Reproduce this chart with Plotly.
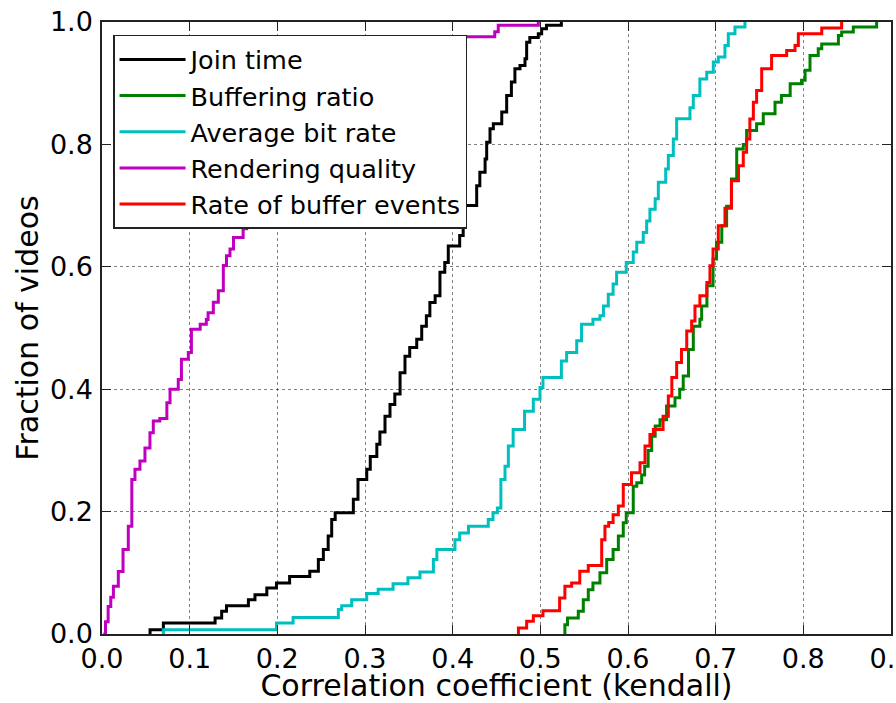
import plotly.graph_objects as go

# ---- data (step-CDF vertices: x where curve rises, new y) ----
join_x = [0.0548, 0.0548, 0.070, 0.129, 0.1365, 0.142, 0.167, 0.1745, 0.188, 0.199, 0.214, 0.237,
          0.2468, 0.2525, 0.258, 0.262, 0.266, 0.2867, 0.292, 0.302, 0.306, 0.3135, 0.317, 0.3228,
          0.3285, 0.334, 0.340, 0.3456, 0.351, 0.359, 0.3647, 0.370, 0.374, 0.380, 0.3855, 0.391,
          0.395, 0.408, 0.412, 0.414, 0.4274, 0.431, 0.437, 0.4388, 0.4426, 0.4464, 0.456, 0.4616,
          0.467, 0.471, 0.4768, 0.4825, 0.4844, 0.488, 0.4977, 0.5015, 0.507, 0.524]
join_y = [0.0, 0.007, 0.018, 0.026, 0.037, 0.046, 0.056, 0.064, 0.075, 0.0835, 0.094, 0.1025,
          0.1216, 0.138, 0.160, 0.187, 0.198, 0.220, 0.2525, 0.269, 0.290, 0.310, 0.330, 0.356,
          0.375, 0.392, 0.427, 0.454, 0.468, 0.4817, 0.503, 0.520, 0.5417, 0.5525, 0.591, 0.607,
          0.634, 0.651, 0.673, 0.700, 0.7326, 0.7545, 0.776, 0.8036, 0.8254, 0.8336, 0.853, 0.880,
          0.902, 0.9236, 0.929, 0.940, 0.967, 0.9747, 0.981, 0.989, 0.9945, 1.0]

buf_ratio_x = [0.528, 0.528, 0.531, 0.5433, 0.549, 0.5547, 0.560, 0.568, 0.5757, 0.583, 0.589, 0.5946,
               0.598, 0.606, 0.610, 0.6156, 0.619, 0.623, 0.627, 0.631, 0.6365, 0.644, 0.6536, 0.659,
               0.663, 0.669, 0.6745, 0.682, 0.684, 0.690, 0.697, 0.701, 0.707, 0.7125, 0.718, 0.724,
               0.7315, 0.7353, 0.7467, 0.7543, 0.7677, 0.775, 0.785, 0.798, 0.802, 0.8076, 0.817,
               0.821, 0.840, 0.8437, 0.857, 0.8836]
buf_ratio_y = [0.0, 0.015, 0.026, 0.037, 0.056, 0.0725, 0.0835, 0.100, 0.1216, 0.138, 0.160, 0.1817,
               0.198, 0.2416, 0.247, 0.260, 0.274, 0.300, 0.323, 0.340, 0.350, 0.3725, 0.386, 0.400,
               0.4216, 0.465, 0.503, 0.5145, 0.536, 0.569, 0.6126, 0.640, 0.667, 0.699, 0.7435, 0.7926,
               0.800, 0.8226, 0.8336, 0.850, 0.869, 0.880, 0.899, 0.905, 0.921, 0.9454, 0.9563,
               0.964, 0.978, 0.9836, 0.992, 1.0]

bitrate_x = [0.070, 0.070, 0.199, 0.218, 0.2696, 0.2734, 0.2848, 0.302, 0.315, 0.332, 0.349, 0.3627,
             0.378, 0.382, 0.4026, 0.408, 0.418, 0.4406, 0.446, 0.451, 0.455, 0.4597, 0.4635, 0.469,
             0.482, 0.492, 0.4996, 0.503, 0.524, 0.530, 0.5415, 0.547, 0.560, 0.568, 0.572, 0.5775,
             0.583, 0.587, 0.598, 0.606, 0.610, 0.6174, 0.6213, 0.625, 0.631, 0.6346, 0.643, 0.646,
             0.6517, 0.6555, 0.6707, 0.6745, 0.682, 0.6898, 0.6973, 0.703, 0.7106, 0.7144, 0.722, 0.7334]
bitrate_y = [0.0, 0.007, 0.018, 0.027, 0.040, 0.046, 0.056, 0.066, 0.073, 0.082, 0.092, 0.1015,
             0.1216, 0.138, 0.154, 0.165, 0.176, 0.187, 0.198, 0.206, 0.2525, 0.274, 0.307, 0.334,
             0.364, 0.3835, 0.4026, 0.419, 0.446, 0.460, 0.479, 0.506, 0.5145, 0.520, 0.536, 0.555,
             0.572, 0.591, 0.607, 0.624, 0.640, 0.656, 0.675, 0.694, 0.711, 0.738, 0.760, 0.7817,
             0.809, 0.842, 0.860, 0.880, 0.907, 0.918, 0.9345, 0.9427, 0.9617, 0.981, 0.992, 1.0]

render_x = [0.0015, 0.004, 0.007, 0.010, 0.013, 0.0186, 0.024, 0.030, 0.034, 0.0376, 0.0433, 0.049,
            0.0547, 0.0585, 0.066, 0.074, 0.0776, 0.087, 0.0906, 0.0985, 0.102, 0.112, 0.119, 0.121,
            0.127, 0.1327, 0.1384, 0.142, 0.146, 0.150, 0.161, 0.165, 0.1745, 0.185, 0.200, 0.220,
            0.250, 0.280, 0.310, 0.350, 0.400, 0.448, 0.452, 0.4977]
render_y = [0.0, 0.020, 0.045, 0.060, 0.078, 0.102, 0.138, 0.176, 0.2525, 0.269, 0.2825, 0.304,
            0.329, 0.348, 0.352, 0.378, 0.400, 0.416, 0.449, 0.460, 0.498, 0.506, 0.514, 0.525,
            0.542, 0.561, 0.602, 0.618, 0.629, 0.648, 0.662, 0.667, 0.673, 0.690, 0.720, 0.760,
            0.810, 0.860, 0.900, 0.940, 0.976, 0.984, 0.9945, 1.0]

buf_events_x = [0.475, 0.475, 0.4844, 0.492, 0.503, 0.522, 0.528, 0.5357, 0.545, 0.5547, 0.570, 0.5737,
                0.578, 0.583, 0.589, 0.5946, 0.604, 0.6137, 0.6194, 0.625, 0.629, 0.640, 0.646, 0.650,
                0.6555, 0.661, 0.667, 0.6726, 0.6764, 0.682, 0.690, 0.6935, 0.697, 0.703, 0.7106, 0.718,
                0.726, 0.7315, 0.7353, 0.739, 0.743, 0.7467, 0.7525, 0.7638, 0.781, 0.7905, 0.7943,
                0.821, 0.8437]
buf_events_y = [0.0, 0.010, 0.021, 0.030, 0.038, 0.059, 0.078, 0.0835, 0.1025, 0.112, 0.154, 0.176,
                0.182, 0.195, 0.209, 0.2444, 0.2635, 0.280, 0.307, 0.326, 0.334, 0.356, 0.389, 0.419,
                0.4435, 0.465, 0.495, 0.5116, 0.536, 0.5525, 0.5745, 0.6016, 0.629, 0.667, 0.6956, 0.7406,
                0.765, 0.787, 0.809, 0.8417, 0.869, 0.888, 0.9236, 0.9454, 0.9536, 0.9618, 0.981,
                0.990, 1.0]

series_names = ["Join time", "Buffering ratio", "Average bit rate", "Rendering quality",
                "Rate of buffer events"]
series_x = [join_x, buf_ratio_x, bitrate_x, render_x, buf_events_x]
series_y = [join_y, buf_ratio_y, bitrate_y, render_y, buf_events_y]
series_colors = ["#000000", "#008000", "#00BFBF", "#BF00BF", "#FF0000"]

x_ticks = [0.0, 0.1, 0.2, 0.3, 0.4, 0.5, 0.6, 0.7, 0.8, 0.9]
y_ticks = [0.0, 0.2, 0.4, 0.6, 0.8, 1.0]

FONT = "DejaVu Sans"

fig = go.Figure()
for name, xs, ys, col in zip(series_names, series_x, series_y, series_colors):
    fig.add_trace(go.Scatter(x=xs, y=ys, mode="lines", name=name, legendgroup=name,
                             line=dict(color=col, width=3, shape="hv")))

axis_common = dict(
    showline=True, linecolor="#222222", linewidth=1.5, mirror="ticks",
    ticks="inside", ticklen=9, tickwidth=1, tickcolor="#222222",
    showgrid=True, gridcolor="rgba(0,0,0,0.5)", griddash="dot", gridwidth=1,
    zeroline=False, automargin=False,
    tickfont=dict(family=FONT, size=27, color="black"),
)

fig.update_layout(
    template="none",
    width=896, height=703,
    margin=dict(l=102, r=5, t=22, b=69),
    paper_bgcolor="white", plot_bgcolor="white",
    font=dict(family=FONT, color="black"),
    showlegend=True,
    legend=dict(
        x=0.014, y=0.979, xanchor="left", yanchor="top",
        bgcolor="white", bordercolor="#222222", borderwidth=1.5,
        font=dict(family=FONT, size=25.5, color="black"),
        itemwidth=66, tracegroupgap=1.5, traceorder="normal",
    ),
)
fig.update_xaxes(
    range=[0, 0.9], tickvals=x_ticks, tickformat=".1f", ticklabeloverflow="allow",
    title=dict(text="Correlation coefficient (kendall)", font=dict(family=FONT, size=30), standoff=4),
    **axis_common,
)
fig.update_yaxes(
    range=[0, 1.0], tickvals=y_ticks, tickformat=".1f", ticklabelstandoff=2,
    title=dict(text="Fraction of videos", font=dict(family=FONT, size=30), standoff=2),
    **axis_common,
)

fig.write_html("out.html", config={"displayModeBar": False},
               post_script="document.body.style.margin='0px';")
